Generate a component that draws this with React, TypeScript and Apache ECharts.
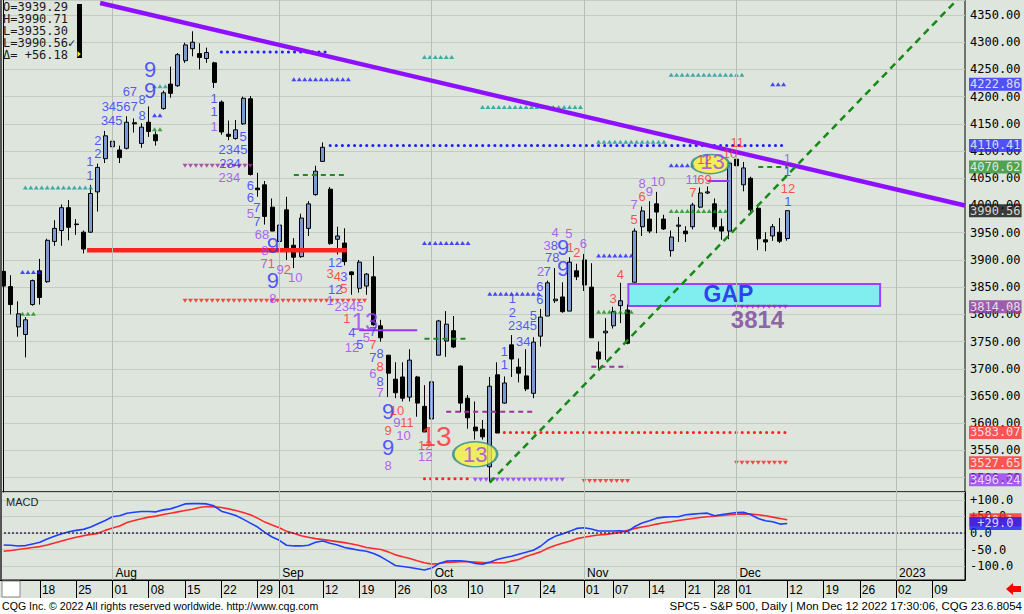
import React, { useEffect, useRef } from 'react';
import * as echarts from 'echarts';

// ---------- categories ----------
const JUL_2022 = [11, 12, 13, 14, 15, 18, 19, 20, 21, 22, 25, 26, 27, 28, 29];
const AUG_2022 = [1, 2, 3, 4, 5, 8, 9, 10, 11, 12, 15, 16, 17, 18, 19, 22, 23, 24, 25, 26, 29, 30, 31];
const SEP_2022 = [1, 2, 6, 7, 8, 9, 12, 13, 14, 15, 16, 19, 20, 21, 22, 23, 26, 27, 28, 29, 30];
const OCT_2022 = [3, 4, 5, 6, 7, 10, 11, 12, 13, 14, 17, 18, 19, 20, 21, 24, 25, 26, 27, 28, 31];
const NOV_2022 = [1, 2, 3, 4, 7, 8, 9, 10, 11, 14, 15, 16, 17, 18, 21, 22, 23, 25, 28, 29, 30];
const DEC_2022 = [1, 2, 5, 6, 7, 8, 9, 12];
const DEC_2022_FUTURE = [13, 14, 15, 16, 19, 20, 21, 22, 23, 26, 27, 28, 29, 30];
const JAN_2023_FUTURE = [2, 3, 4, 5, 6, 9, 10, 11, 12, 13];

const pad = (n: number) => (n < 10 ? '0' + n : '' + n);
const mk = (y: number, m: number, days: number[]) => days.map((d) => `${y}-${pad(m)}-${pad(d)}`);
const DATES: string[] = [
  ...mk(2022, 7, JUL_2022), ...mk(2022, 8, AUG_2022), ...mk(2022, 9, SEP_2022),
  ...mk(2022, 10, OCT_2022), ...mk(2022, 11, NOV_2022), ...mk(2022, 12, DEC_2022),
  ...mk(2022, 12, DEC_2022_FUTURE), ...mk(2023, 1, JAN_2023_FUTURE),
];
const N = DATES.length;

const WEEK_LABELS = ['2022-07-18', '2022-07-25', '2022-08-01', '2022-08-08', '2022-08-15', '2022-08-22', '2022-08-29',
  '2022-09-01', '2022-09-12', '2022-09-19', '2022-09-26', '2022-10-03', '2022-10-10', '2022-10-17', '2022-10-24',
  '2022-11-01', '2022-11-07', '2022-11-14', '2022-11-21', '2022-11-28', '2022-12-01', '2022-12-12', '2022-12-19',
  '2022-12-26', '2023-01-02', '2023-01-09'];
const MONTH_LABELS: [string, string][] = [['2022-08-01', 'Aug'], ['2022-09-01', 'Sep'], ['2022-10-03', 'Oct'],
  ['2022-11-01', 'Nov'], ['2022-12-01', 'Dec'], ['2023-01-02', '2023']];

// ---------- prices (Jul 11 .. Dec 12 2022) ----------
const OPEN = [3879, 3851, 3777, 3763, 3818, 3880, 3860, 3934, 3954, 3996, 3965, 3951, 3951, 4025, 4086,
  4108, 4102, 4105, 4152, 4114, 4153, 4130, 4178, 4223, 4220, 4266, 4288, 4279, 4270, 4262, 4190, 4131, 4123, 4150, 4196, 4032, 4038, 3997,
  3934, 3992, 3927, 3906, 3958, 4020, 4081, 4030, 3938, 3931, 3878, 3848, 3852, 3869, 3779, 3725, 3681, 3685, 3648, 3685, 3631,
  3608, 3725, 3751, 3770, 3705, 3646, 3593, 3589, 3520, 3689, 3637, 3744, 3703, 3687, 3655, 3760, 3797, 3825, 3832, 3806, 3880,
  3900, 3850, 3731, 3766, 3779, 3816, 3808, 3859, 3961, 3975, 4003, 3975, 3917, 3962, 3953, 3961, 3997, 4023, 4003, 3961, 3953,
  4085, 4038, 4050, 3995, 3937, 3944, 3951, 3939.29];
const HIGH = [3882, 3872, 3824, 3795, 3864, 3902, 3939, 3973, 4002, 4010, 3975, 3954, 4038, 4077, 4137,
  4142, 4110, 4164, 4160, 4151, 4182, 4136, 4211, 4255, 4280, 4299, 4320, 4298, 4290, 4264, 4193, 4156, 4157, 4200, 4201, 4060, 4045, 4013,
  3968, 4016, 3940, 3985, 4008, 4073, 4116, 4034, 3961, 3958, 3879, 3900, 3876, 3907, 3790, 3725, 3712, 3712, 3736, 3687, 3670,
  3698, 3790, 3806, 3797, 3706, 3652, 3640, 3606, 3685, 3712, 3686, 3762, 3719, 3736, 3758, 3810, 3862, 3885, 3859, 3905, 3893,
  3911, 3894, 3750, 3793, 3814, 3858, 3818, 3958, 3998, 4008, 4025, 3983, 3954, 3979, 3962, 4005, 4033, 4035, 4013, 3976, 4080,
  4095, 4080, 4053, 4001, 3951, 3966, 3977, 3990.71];
const LOW = [3846, 3800, 3759, 3721, 3816, 3818, 3858, 3926, 3926, 3936, 3946, 3912, 3950, 3989, 4078,
  4094, 4078, 4103, 4134, 4106, 4126, 4110, 4176, 4198, 4218, 4262, 4274, 4250, 4262, 4216, 4130, 4120, 4121, 4148, 4055, 4016, 3965, 3953,
  3900, 3900, 3885, 3904, 3944, 4018, 4080, 3928, 3910, 3890, 3836, 3840, 3836, 3779, 3750, 3648, 3646, 3640, 3640, 3612, 3584,
  3604, 3725, 3722, 3738, 3620, 3590, 3570, 3570, 3492, 3582, 3636, 3685, 3675, 3659, 3646, 3741, 3797, 3821, 3803, 3806, 3863,
  3843, 3757, 3698, 3716, 3774, 3784, 3745, 3859, 3944, 3949, 3949, 3955, 3906, 3933, 3933, 3956, 3995, 4021, 3956, 3937, 3938,
  4057, 4026, 3984, 3918, 3916, 3935, 3931, 3935.30];
const CLOSE = [3852, 3818, 3801, 3790, 3862, 3831, 3936, 3958, 3996, 3960, 3966, 3920, 4022, 4070, 4128,
  4118, 4088, 4153, 4150, 4144, 4136, 4119, 4207, 4206, 4277, 4295, 4300, 4272, 4281, 4226, 4135, 4127, 4139, 4197, 4057, 4029, 3980, 3953,
  3964, 3922, 3905, 3977, 4003, 4063, 4107, 3930, 3944, 3897, 3873, 3896, 3874, 3781, 3757, 3692, 3656, 3646, 3716, 3637, 3584,
  3676, 3788, 3782, 3740, 3637, 3610, 3586, 3575, 3668, 3582, 3674, 3718, 3692, 3663, 3749, 3795, 3858, 3828, 3805, 3896, 3869,
  3854, 3757, 3718, 3769, 3805, 3825, 3747, 3953, 3990, 3953, 3988, 3957, 3942, 3964, 3948, 4001, 4023, 4025, 3961, 3953, 4078,
  4073, 4069, 3992, 3939, 3933, 3961, 3934.38, 3990.56];

// ---------- MACD ----------
const MACD = [-36, -37, -39, -38, -33, -28, -18, -10, -2, 4, 8, 11, 18, 28, 38,
  49, 52, 60, 63, 65, 65, 64, 70, 73, 80, 88, 89, 89, 88, 82, 66, 60, 53, 42, 30, 18, 2, -12,
  -22, -37, -39, -39, -37, -28, -24, -31, -36, -44, -48, -52, -55, -62, -72, -85, -98, -101, -104, -108, -112,
  -106, -92, -85, -84, -84, -86, -92, -94, -88, -80, -75, -70, -64, -58, -52, -40, -22, -10, -3, 5, 14,
  16, 12, 6, 6, 6, 7, 4, 20, 30, 37, 45, 48, 49, 49, 55, 57, 59, 60, 52, 56, 59,
  62, 63, 55, 44, 37, 34, 27, 29];
const SIGNAL = [-55, -53, -50, -47, -44, -41, -36, -30, -24, -18, -13, -8, -4, -1, 8,
  15, 21, 32, 38, 43, 48, 51, 56, 60, 64, 68, 72, 77, 80, 79, 77, 73, 68, 62, 55, 45, 33, 24,
  16, 5, -1, -8, -13, -17, -20, -23, -26, -29, -33, -38, -44, -47, -50, -57, -66, -72, -77, -84, -90,
  -94, -92, -89, -88, -87, -87, -88, -89, -90, -90, -90, -85, -80, -71, -64, -57, -46, -38, -31, -25, -17,
  -13, -9, -6, -4, -1, 2, 8, 14, 18, 22, 27, 31, 34, 38, 41, 44, 47, 49, 51, 53, 55,
  57, 58, 57, 55, 52, 48, 44, 40];
const MACD_TAGS: [number, string, string][] = [[40.1, '+40.1', '#ff2b2b'], [29.0, '+29.0', '#1a1aff']];

// ---------- annotation levels: [fromIdx, toIdx, price, kind, colour] ----------
const LEVELS: [number, number, number, string, string][] = [
  [30, 45, 4282, 'dot', 'blue'],
  [45, 108, 4110.41, 'dot', 'blue'],
  [3, 12, 4033, 'tri', 'teal'],
  [40, 47.5, 4232, 'tri', 'blue'],
  [25, 34, 4073, 'tridown', 'plum'],
  [25, 50, 3825, 'tridown', 'red'],
  [40, 47, 4056, 'dash', 'green'],
  [58, 64, 3931, 'tri', 'blue'],
  [58, 64, 3755, 'dash', 'green'],
  [61, 73, 3621, 'dash', 'plum'],
  [58, 64, 3498, 'dot', 'red'],
  [65, 77, 3496.24, 'tridown', 'purple'],
  [67, 74, 3838, 'tri', 'blue'],
  [69, 108, 3583.07, 'dot', 'red'],
  [80, 86, 3494, 'tridown', 'red'],
  [82, 87, 3908, 'tri', 'blue'],
  [82, 87, 3805, 'tri', 'green'],
  [81, 86, 3704, 'dash', 'plum'],
  [58, 62, 4273, 'tri', 'teal'],
  [66, 80, 4181, 'tri', 'teal'],
  [82, 91, 4117, 'tri', 'teal'],
  [92, 102, 4240, 'tri', 'teal'],
  [92, 95, 4074, 'tri', 'blue'],
  [92, 100, 3990, 'tri', 'green'],
  [104, 108, 4070.62, 'dash', 'green'],
  [106, 108, 4222.86, 'tri', 'blue'],
  [101, 108, 3527.65, 'tridown', 'red'],
  [101, 108, 3814.08, 'tridown', 'plum'],
  [20.8, 22.2, 4166, 'tri', 'blue'],
  [20.8, 22.8, 4219, 'tri', 'teal'],
  [20.8, 22.2, 4140, 'tri', 'green'],
  [2.6, 4.2, 3801, 'tri', 'green'],
  [2.6, 5.2, 3878, 'tri', 'blue'],
  [49, 57, 3771, 'solid', 'purple'],
  [97, 100, 4045, 'solid', 'purple'],
  [11.5, 47.3, 3918, 'thick', 'red'],
];
const DOWN_TREND: [number, number][] = [[13.3, 4372], [132.5, 4000]];
const UP_TREND: [number, number][] = [[67, 3491], [132.5, 4393]];
const GAP_BOX = { from: 86.1, to: 120.8, top: 3856, bottom: 3815.5 };
const ELLIPSES: [number, number, number, number][] = [[65.0, 3543, 44, 25], [97.4, 4076, 37, 19]];
const AXIS_TAGS: [number, string][] = [
  [4222.86, '#2a2aff'], [4110.41, '#2a2aff'], [4070.62, '#2f8f2f'], [3990.56, '#111111'],
  [3814.08, '#8c3c9c'], [3583.07, '#ff3030'], [3527.65, '#ff3030'], [3496.24, '#9a3af5'],
];

// ---------- TD count numerals: [idx, price, text, colour, size] ----------
const TD: [number, number, string, string, number?][] = [
  [20.2, 4249, '9', 'B', 22], [20.2, 4212, '9', 'B', 22], [17.4, 4210, '67', 'B'], [19.1, 4194, '8', 'B'],
  [16.0, 4181, '34567', 'B'], [14.9, 4157, '345', 'B'], [19.1, 4166, '8', 'B'], [13.0, 4120, '2', 'B'],
  [13.0, 4096, '2', 'B'], [11.9, 4080, '1', 'B'], [11.9, 4056, '1', 'B'],
  [29.0, 4197, '1', 'B'], [29.0, 4172, '1', 'B'], [29.0, 4146, '1', 'P'], [33.0, 4126, '5', 'B'],
  [31.6, 4102, '2345', 'B'], [31.2, 4078, '234', 'B'], [31.1, 4051, '234', 'P'],
  [34.0, 4036, '6', 'B'], [34.0, 4014, '6', 'B'], [34.9, 3997, '7', 'B'], [34.0, 3986, '5', 'P'], [34.9, 3970, '7', 'B'],
  [35.6, 3946, '68', 'P'], [36.0, 3918, '8', 'P'], [37.1, 3927, '9', 'B', 22], [35.9, 3894, '7', 'P'], [36.9, 3894, '1', 'R'],
  [38.1, 3883, '9', 'P'], [39.1, 3883, '2', 'R'], [40.2, 3867, '10', 'P'], [37.1, 3863, '9', 'B', 22], [37.1, 3830, '8', 'P'],
  [45.7, 3896, '12', 'B'], [45.0, 3876, '3', 'R'], [46.0, 3869, '4', 'R'], [46.9, 3869, '3', 'B'], [45.7, 3845, '12', 'B'],
  [46.9, 3848, '5', 'R'], [45.0, 3826, '1', 'P'], [47.6, 3814, '2345', 'P'], [47.3, 3793, '1', 'R'], [49.8, 3786, '13', 'P', 24],
  [48.0, 3766, '4', 'B'], [50.9, 3768, '7', 'B'], [48.0, 3740, '12', 'P'], [49.1, 3744, '5', 'B'], [50.0, 3757, '5', 'P'],
  [50.9, 3744, '7', 'R'], [51.9, 3729, '8', 'B'], [50.9, 3720, '7', 'B'], [51.9, 3705, '8', 'R'], [50.9, 3692, '6', 'P'],
  [51.9, 3676, '8', 'B'], [51.9, 3656, '7', 'P'], [53.0, 3621, '9', 'B', 22], [54.2, 3624, '10', 'R'], [54.2, 3602, '9', 'P'],
  [55.6, 3602, '11', 'R'], [53.0, 3587, '9', 'R'], [55.1, 3578, '10', 'P'], [53.0, 3556, '9', 'B', 22], [53.0, 3523, '8', 'P'],
  [58.1, 3560, '12', 'R'], [58.1, 3538, '12', 'P'], [59.6, 3576, '13', 'R', 28], [65.0, 3542, '13', 'P', 22],
  [69.0, 3731, '1', 'B'], [69.0, 3707, '1', 'B'], [70.1, 3830, '1', 'B'], [70.1, 3804, '2', 'B'], [71.5, 3779, '2345', 'B'],
  [71.6, 3751, '34', 'B'], [73.0, 3798, '5', 'B'], [73.9, 3852, '6', 'B'], [73.9, 3828, '6', 'B'], [74.0, 3878, '2', 'P'],
  [74.9, 3878, '7', 'B'], [75.6, 3904, '78', 'B'], [74.9, 3927, '3', 'P'], [75.9, 3927, '8', 'B'], [77.1, 3922, '9', 'B', 22],
  [77.1, 3885, '9', 'B', 22], [76.0, 3951, '4', 'P'], [77.9, 3949, '5', 'P'], [78.1, 3922, '1', 'R'], [79.0, 3913, '2', 'R'],
  [79.9, 3931, '6', 'P'], [85.0, 3874, '4', 'R'], [84.0, 3830, '3', 'R'],
  [86.9, 3975, '5', 'R'], [86.9, 4001, '7', 'P'], [88.0, 4017, '6', 'R'], [88.0, 4041, '8', 'P'], [89.0, 4025, '9', 'P'],
  [90.2, 4045, '10', 'P'], [95.0, 4023, '7', 'R'], [94.9, 4047, '11', 'P'], [96.6, 4047, '69', 'R'], [96.6, 4084, '12', 'R'],
  [97.7, 4080, '13', 'P', 22], [100.1, 4096, '10', 'R'], [101.1, 4115, '11', 'R'], [108.0, 4087, '1', 'P'],
  [108.0, 4062, '1', 'B'], [108.1, 4032, '12', 'R'], [108.1, 4008, '1', 'B'],
];
const BIG_TEXT: [number, number, string, string, number][] = [
  [99.9, 3838, 'GAP', '#1515ee', 23], [103.9, 3791, '3814', '#7b3f9e', 24],
];

const BG = '#dde5dd';
const GRIDLINE = '#c3cbc3';
const COL: Record<string, string> = {
  blue: '#2020ff', teal: '#169a9a', green: '#1d8c1d', red: '#ff2020', purple: '#9b30ff', plum: '#a0309a',
};
const TDCOL: Record<string, string> = { B: '#3030ff', P: '#a040f0', R: '#ff2a2a' };

function buildOption() {
  const last = OPEN.length - 1;
  const candles = OPEN.map((o, i) => [o, CLOSE[i], LOW[i], HIGH[i]]);
  const weekSet = new Set(WEEK_LABELS);
  const monthMap = new Map(MONTH_LABELS);
  const monthIdx = MONTH_LABELS.map(([d]) => DATES.indexOf(d));

  const levelSeries: any[] = LEVELS.map(([a, b, p, kind, c]) => {
    const color = COL[c];
    if (kind === 'tri' || kind === 'tridown') {
      const pts: number[][] = [];
      for (let x = a; x <= b + 1e-6; x += 0.75) pts.push([x, p]);
      return {
        type: 'scatter', xAxisIndex: 1, yAxisIndex: 0, data: pts, symbol: 'triangle', symbolSize: [5, 4],
        symbolRotate: kind === 'tridown' ? 180 : 0, itemStyle: { color }, silent: true, z: 4,
      };
    }
    let lineStyle: any = { color, width: 2, type: 'solid' };
    if (kind === 'dot') lineStyle = { color, width: 3, type: [0.1, 6], cap: 'round' };
    if (kind === 'dash') lineStyle = { color, width: 2, type: [5, 4] };
    if (kind === 'thick') lineStyle = { color, width: 4.5 };
    return {
      type: 'line', xAxisIndex: 1, yAxisIndex: 0, data: [[a, p], [b, p]], symbol: 'none', lineStyle, silent: true, z: 4,
    };
  });

  const monoFont = 'DejaVu Sans Mono';
  const sans = 'Liberation Sans';
  const info = [
    `O=${OPEN[last].toFixed(2)}`, `H=${HIGH[last].toFixed(2)}`, `L=${LOW[last].toFixed(2)}`,
    `L=${CLOSE[last].toFixed(2)}\u2713`, `\u0394= +${(CLOSE[last] - CLOSE[last - 1]).toFixed(2)}`,
  ];

  return {
    animation: false,
    backgroundColor: 'transparent',
    grid: [
      { left: 0, top: 0, width: 965, height: 492, show: true, borderColor: '#000', borderWidth: 1, backgroundColor: 'transparent' },
      { left: 0, top: 492, width: 965, height: 88, show: true, borderColor: '#000', borderWidth: 1, backgroundColor: 'transparent' },
    ],
    xAxis: [
      { type: 'category', gridIndex: 0, data: DATES, boundaryGap: true, show: false },
      { type: 'value', gridIndex: 0, min: -0.5, max: N - 0.5, show: false },
      {
        type: 'category', gridIndex: 1, data: DATES, boundaryGap: true, position: 'bottom',
        axisLine: { show: true, onZero: false, lineStyle: { color: '#000' } },
        axisTick: { show: true, alignWithLabel: true, length: 18, interval: (i: number, v: string) => weekSet.has(v), lineStyle: { color: '#000' } },
        axisLabel: {
          show: true, interval: (i: number, v: string) => weekSet.has(v), formatter: (v: string) => v.slice(8),
          align: 'left', margin: 4, padding: [0, 0, 0, 2], color: '#000', fontSize: 12, fontFamily: sans,
        },
        splitLine: { show: false },
      },
      {
        type: 'category', gridIndex: 1, data: DATES, boundaryGap: true, position: 'bottom',
        axisLine: { show: false, onZero: false }, axisTick: { show: false }, splitLine: { show: false },
        axisLabel: {
          show: true, inside: true, interval: (i: number, v: string) => monthMap.has(v),
          formatter: (v: string) => monthMap.get(v) || '', align: 'left', margin: 1, padding: [0, 0, 0, 3],
          color: '#000', fontSize: 12, fontFamily: sans,
        },
      },
    ],
    yAxis: [
      {
        type: 'value', gridIndex: 0, position: 'right', min: 3473.7, max: 4377.5, splitNumber: 18,
        axisLine: { show: true, lineStyle: { color: '#000' } }, axisTick: { show: false },
        axisLabel: {
          formatter: (v: number) => v.toFixed(2), showMinLabel: false, showMaxLabel: false, margin: 5,
          color: '#000', fontFamily: monoFont, fontSize: 12,
        },
        splitLine: { show: true, lineStyle: { color: GRIDLINE, width: 1 } },
      },
      {
        type: 'value', gridIndex: 1, position: 'right', min: -142, max: 124, splitNumber: 5,
        axisLine: { show: true, lineStyle: { color: '#000' } }, axisTick: { show: false },
        axisLabel: {
          formatter: (v: number) => (v > 0 ? '+' + v.toFixed(1) : v.toFixed(1)), showMinLabel: false, showMaxLabel: false,
          margin: 5, color: '#000', fontFamily: monoFont, fontSize: 12,
        },
        splitLine: { show: true, lineStyle: { color: GRIDLINE, width: 1 } },
      },
    ],
    series: [
      {
        type: 'line', xAxisIndex: 1, yAxisIndex: 0, data: [], silent: true, z: 1,
        markLine: {
          symbol: 'none', silent: true, label: { show: false },
          lineStyle: { color: '#b6beb6', width: 1, type: 'solid' },
          data: monthIdx.map((i) => ({ xAxis: i })),
        },
      },
      {
        type: 'candlestick', xAxisIndex: 0, yAxisIndex: 0, data: candles, barWidth: 4.5, z: 3, silent: true,
        itemStyle: { color: '#7c9ad0', color0: '#000', borderColor: '#000', borderColor0: '#000', borderWidth: 1 },
      },
      ...levelSeries,
      {
        type: 'line', xAxisIndex: 1, yAxisIndex: 0, data: DOWN_TREND, symbol: 'none', silent: true, z: 5,
        lineStyle: { color: '#8f10ff', width: 4.5 },
      },
      {
        type: 'line', xAxisIndex: 1, yAxisIndex: 0, data: UP_TREND, symbol: 'none', silent: true, z: 5,
        lineStyle: { color: '#168a16', width: 2.5, type: [7, 5] },
      },
      {
        type: 'line', xAxisIndex: 1, yAxisIndex: 0, data: [], silent: true, z: 5,
        markArea: {
          silent: true,
          itemStyle: { color: '#80eeee', borderColor: '#a040ff', borderWidth: 2 },
          label: { show: false },
          data: [[{ xAxis: GAP_BOX.from, yAxis: GAP_BOX.top }, { xAxis: GAP_BOX.to, yAxis: GAP_BOX.bottom }]],
        },
      },
      {
        type: 'scatter', xAxisIndex: 1, yAxisIndex: 0, silent: true, z: 5,
        data: ELLIPSES.map(([x, p, w, h]) => ({ value: [x, p], symbolSize: [w, h] })),
        symbol: 'circle', itemStyle: { color: '#f4f040', borderColor: '#2a8a8a', borderWidth: 2 },
      },
      {
        type: 'scatter', xAxisIndex: 1, yAxisIndex: 0, silent: true, z: 6, symbolSize: 0,
        data: TD.map(([x, p, t, c, s]) => ({
          value: [x, p],
          label: { show: true, position: 'inside', formatter: t, color: TDCOL[c], fontSize: s || 13, fontFamily: sans },
        })),
      },
      {
        type: 'scatter', xAxisIndex: 1, yAxisIndex: 0, silent: true, z: 6, symbolSize: 0,
        data: BIG_TEXT.map(([x, p, t, c, s]) => ({
          value: [x, p],
          label: { show: true, position: 'inside', formatter: t, color: c, fontSize: s, fontWeight: 'bold', fontFamily: sans },
        })),
      },
      {
        type: 'scatter', xAxisIndex: 1, yAxisIndex: 0, silent: true, z: 7, symbolSize: 0, clip: false,
        data: AXIS_TAGS.map(([v, bg]) => ({
          value: [N - 0.5, v],
          label: {
            show: true, position: 'right', distance: 4, formatter: v.toFixed(2), color: '#fff', backgroundColor: bg,
            fontFamily: monoFont, fontSize: 12, lineHeight: 12, padding: [1, 1, 0, 1],
          },
        })),
      },
      {
        type: 'line', xAxisIndex: 2, yAxisIndex: 1, data: SIGNAL, symbol: 'none', silent: true, z: 3,
        lineStyle: { color: '#ff2a2a', width: 1.6 },
        markLine: {
          symbol: 'none', silent: true, label: { show: false },
          data: [
            { yAxis: 0, lineStyle: { color: '#3a2850', width: 1.5, type: [2, 2] } },
            ...monthIdx.map((i) => ({ xAxis: i, lineStyle: { color: '#b6beb6', width: 1, type: 'solid' } })),
          ],
        },
      },
      {
        type: 'line', xAxisIndex: 2, yAxisIndex: 1, data: MACD, symbol: 'none', silent: true, z: 4,
        lineStyle: { color: '#2040ff', width: 1.6 },
      },
      {
        type: 'scatter', xAxisIndex: 2, yAxisIndex: 1, silent: true, z: 7, symbolSize: 0, clip: false,
        data: MACD_TAGS.map(([v, t, bg]) => ({
          value: [N - 1, v],
          label: {
            show: true, position: 'right', distance: 8, formatter: t, color: '#fff', backgroundColor: bg,
            fontFamily: monoFont, fontSize: 12, lineHeight: 12, padding: [1, 8, 0, 8],
          },
        })),
      },
    ],
    graphic: [
      { type: 'line', shape: { x1: 1, y1: 0, x2: 1, y2: 580 }, style: { stroke: '#555', lineWidth: 2 }, z: 50 },
      ...info.map((t, k) => ({
        type: 'text', x: 3, y: 7 + 12 * k, z: 50,
        style: { text: t, fill: '#1a1a1a', font: `12px "${monoFont}"`, align: 'left', verticalAlign: 'middle' },
      })),
      { type: 'rect', shape: { x: 77, y: 4, width: 5, height: 54 }, style: { fill: '#000' }, z: 50 },
      { type: 'polygon', shape: { points: [[77.5, 51], [80.8, 54], [77.5, 57]] }, style: { fill: '#ffea00' }, z: 51 },
      {
        type: 'text', x: 6, y: 502, z: 50,
        style: { text: 'MACD', fill: '#222', font: `11px "${sans}"`, align: 'left', verticalAlign: 'middle' },
      },
      { type: 'rect', shape: { x: 2, y: 581, width: 18, height: 16 }, style: { fill: '#fff', stroke: '#888', lineWidth: 1 }, z: 50 },
      {
        type: 'polygon', z: 50,
        shape: { points: [[1006, 589], [1013, 583], [1013, 586], [1021, 586], [1021, 592], [1013, 592], [1013, 595]] },
        style: { fill: '#ff0000' },
      },
      {
        type: 'text', x: 2, y: 606, z: 50,
        style: { text: 'CQG Inc. \u00a9 2022 All rights reserved worldwide. http://www.cqg.com', fill: '#000', font: `10.6px "${sans}"`, align: 'left', verticalAlign: 'middle' },
      },
      {
        type: 'text', x: 1022, y: 606, z: 50,
        style: { text: 'SPC5 - S&P 500, Daily | Mon Dec 12 2022 17:30:06, CQG 23.6.8054', fill: '#000', font: `11.5px "${sans}"`, align: 'right', verticalAlign: 'middle' },
      },
    ],
  };
}

export default function App() {
  const ref = useRef<HTMLDivElement>(null);
  useEffect(() => {
    document.body.style.margin = '0';
    const chart = echarts.init(ref.current as HTMLDivElement, null, { renderer: 'svg' });
    chart.setOption(buildOption() as any);
    return () => chart.dispose();
  }, []);
  return (
    <div style={{ position: 'relative', width: 1024, height: 614, background: '#fff', overflow: 'hidden' }}>
      <div style={{ position: 'absolute', left: 0, top: 0, width: 1024, height: 598, background: BG }} />
      <div ref={ref} style={{ position: 'absolute', left: 0, top: 0, width: 1024, height: 614 }} />
    </div>
  );
}
